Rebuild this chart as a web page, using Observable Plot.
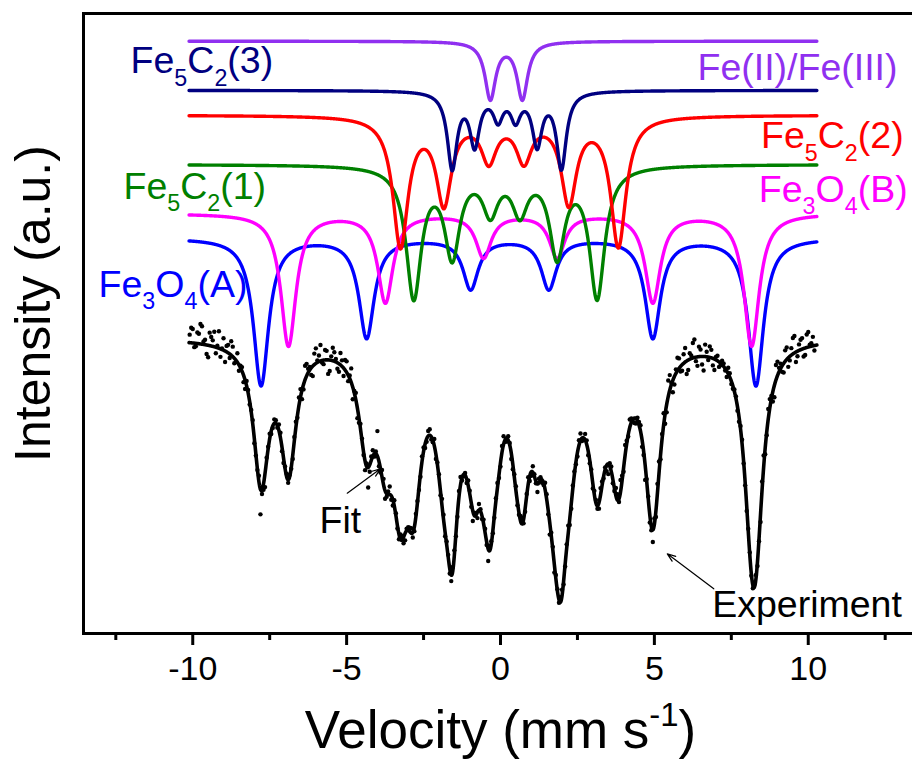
<!DOCTYPE html>
<html><head><meta charset="utf-8">
<script src="https://cdn.jsdelivr.net/npm/d3@7"></script>
<script src="https://cdn.jsdelivr.net/npm/@observablehq/plot@0.6"></script>
<style>
html,body{margin:0;padding:0;background:#fff;overflow:hidden;width:912px;height:769px}
svg{display:block;max-width:none !important}
</style></head><body><div id="chart"></div>
<script>
// ---- sub-spectra (Lorentzian lines) ----
const componentNames = ["Fe3O4(A)", "Fe3O4(B)", "Fe5C2(1)", "Fe5C2(2)", "Fe5C2(3)", "Fe(II)/Fe(III)"];
const componentBaselines = [395.4, 420, 469, 518.3, 543.1, 592.3];
const componentHalfWidths = [0.30, 0.30, 0.30, 0.30, 0.19, 0.21];
const posA = [-7.78, -4.35, -0.97, 1.57, 4.95, 8.30];
const posB = [-6.89, -3.74, -0.55, 1.84, 4.95, 8.16];
const posC1 = [-2.82, -1.57, -0.33, 0.63, 1.84, 3.14];
const posC2 = [-3.25, -1.84, -0.38, 0.76, 2.22, 3.83];
const posC3 = [-1.57, -0.84, -0.08, 0.49, 1.19, 1.98];
const posD = [-0.33, 0.71];
const depthA = [147, 99, 50, 50, 99, 147];
const depthB = [132, 88, 43, 43, 88, 132];
const depthC1 = [130, 87, 43, 43, 87, 130];
const depthC2 = [129, 85, 42, 42, 85, 129];
const depthC3 = [76, 52, 26, 26, 52, 76];
const depthD = [57, 57];
const componentPositions = [posA, posB, posC1, posC2, posC3, posD];
const componentDepths = [depthA, depthB, depthC1, depthC2, depthC3, depthD];
const velocityRange = [-10.12, 10.28];

// ---- fit and experiment ----
const fitBaseline = 296;
const fitScale = 0.93;
const expStartA = -10.1, expStartB = -10.05, expStep = 0.1;
const expResidualsA = [
  8, 14, -3, 10, 18, 5, -12, 9, 15, 2, -8, 12, 6, -4, 10, -2,
  -6, 4, -9, 3, 2, -5, -1, -25, -6, 3,
  5, -2, 3, 6, -4, 2, -3, -1, 4, -2,
  8, -5, 12, 3, -10, 15, 6, -2, 10, -14, 4, 9, -6, 12,
  -8, 11, 3, -12, 7, -5, 2, -9, -20, 4, -3,
  25, -4, 6, -3, 8, -6, 2, -5, 4, -7, 3, 5, -4, 2, -3,
  4, -3, 6, -2, -5, 3, 7, -4, 2, -6, 5, -3, 8, -2, -4, 3, -10, 2, 6, -3, 4, -12, 3, -2,
  5, -4, 8, -3, 2, -5, 4, -2, 6, -3, 7, -4, 2, -8, 3, -2, 5, -12, 3, 4, -3, 6, -2, 8, -5, 3, -4, 7, -2, 4, -3,
  -5, 3, -6, 4, 2, -10, 5, -3, 6, 12, -4, 3, 8, -2, -5, 3, -7, -15, 2, -4,
  6, 9, -4, 12, -8, 15, -12, 4, 10, -6, 14, -10, 3, 18, -9, 7, -14, 5, 11, -7,
  3, -5, 4, -2, 6, -3, 2, -4, 3, -2, -5, 2, -3, 4, -2,
  8, -6, 10, 3, -12, 14, 5, -9, 12, -4, 16, -10, 6, 11, -7, 15, 3, -5
];
const expResidualsB = [
  15, -4, 11, 20, 3, -9, 13, 6, -6, 17, 1, -11, 8, 14, -5, 9,
  2, -7, 5, -3, 4, -2, 6, -4, -14, 2,
  -3, 4, -2, 5, -5, 3, 2, -4, 6, 8,
  -9, 14, 4, -7, 11, 2, 16, -4, 9, -11, 13, 3, -8, 6,
  10, -6, 14, 2, -10, 5, -3, 3, -7, 6, 2,
  -5, 7, -8, 3, -4, 6, -3, 5, -6, 2, 4, -5, 3, -2, 5,
  -4, 5, -3, 7, 2, -4, 5, 3, -5, 4, -2, 6, -3, 2, 5, -4, 3, -6, 2, 4, -3, 5, -2, 3,
  -3, 6, -2, 4, -6, 3, -3, 5, -4, 2, -5, 6, -2, 4, -3, 7, -4, 3, -8, 2, 5, -3, 4, -6, 3, -2, 5, -3, 6, -4, 2,
  4, -3, 7, -2, -6, 3, -4, 8, -3, 5, 10, -2, 4, -5, 3, 6, -4, 2, -8, -12,
  -6, 12, 5, -10, 16, 2, -8, 13, -5, 9, -13, 6, 15, -4, 10, -8, 12, -3, 8, -11,
  5, -2, 3, -6, 4, -3, 2, -5, 4, -3, 2, -2, 3, -4,
  -8, 12, -3, 9, -10, 15, 4, -6, 11, -9, 7, 17, -5, 10, -8, 13, 2, 9
];

// ---- axis ticks ----
const majorTicks = [-10, -5, 0, 5, 10];
const minorTicks = [-12.5, -7.5, -2.5, 2.5, 7.5, 12.5];

// ---- styling / annotations ----
const componentColors = ["#0000ff", "#ff00ff", "#008000", "#ff0000", "#000080", "#9030f0"];
const leftLabels = [
  {text: "Fe_{5}C_{2}(3)", x: -12.02, y: 572.3, color: "#000080"},
  {text: "Fe_{5}C_{2}(1)", x: -12.25, y: 447, color: "#008000"},
  {text: "Fe_{3}O_{4}(A)", x: -13.06, y: 349, color: "#0000ff"},
  {text: "Fit", x: -5.88, y: 112.3, color: "#000000"},
  {text: "Experiment", x: 6.88, y: 29, color: "#000000"}
];
const rightLabels = [
  {text: "Fe(II)/Fe(III)", x: 12.90, y: 565.7, color: "#9030f0"},
  {text: "Fe_{5}C_{2}(2)", x: 13.10, y: 497.3, color: "#ff0000"},
  {text: "Fe_{3}O_{4}(B)", x: 13.23, y: 444, color: "#ff00ff"}
];
const arrows = [
  {x1: -4.98, y1: 140.3, x2: -3.90, y2: 164.7},
  {x1: 6.93, y1: 44.7, x2: 5.42, y2: 79.7}
];
const yTitle = [{text: "Intensity (a.u.)", x: -15.16, y: 330}];

// ---- model evaluation ----
function absorption(k, v) {
  const p = componentPositions[k], d = componentDepths[k], w = componentHalfWidths[k];
  let s = 0;
  for (let j = 0; j < p.length; j++) { const u = (v - p[j]) / w; s += d[j] / (1 + u * u); }
  return s;
}
function totalAbsorption(v) { let s = 0; for (let k = 0; k < componentNames.length; k++) s += absorption(k, v); return s; }
const fitAt = v => fitBaseline - fitScale * totalAbsorption(v);
const vs = d3.range(velocityRange[0], velocityRange[1] + 1e-9, 0.01);
const curves = componentNames.map((name, k) => vs.map(v => ({v, y: componentBaselines[k] - absorption(k, v)})));
const fitData = vs.map(v => ({v, y: fitAt(v)}));
const expData = [
  ...expResidualsA.map((r, i) => { const v = expStartA + i * expStep; return {v, y: fitAt(v) + r}; }),
  ...expResidualsB.map((r, i) => { const v = expStartB + i * expStep; return {v, y: fitAt(v) + r}; })
];

const marks = [
  Plot.dot(expData, {x: "v", y: "y", r: 2.2, fill: "black", stroke: null}),
  Plot.line(fitData, {x: "v", y: "y", stroke: "black", strokeWidth: 3.6}),
  ...curves.map((c, k) => Plot.line(c, {x: "v", y: "y", stroke: componentColors[k], strokeWidth: 3.4})),
  Plot.text(leftLabels, {x: "x", y: "y", text: "text", fill: "color", textAnchor: "start", fontSize: 37.5, lineAnchor: "middle"}),
  Plot.text(rightLabels, {x: "x", y: "y", text: "text", fill: "color", textAnchor: "end", fontSize: 37.5, lineAnchor: "middle"}),
  Plot.arrow(arrows, {x1: "x1", y1: "y1", x2: "x2", y2: "y2", stroke: "black", strokeWidth: 1.2, headLength: 11, headAngle: 40}),
  Plot.axisX({ticks: majorTicks, tickSize: 12, tickPadding: 10, strokeWidth: 3, fontSize: 34, tickFormat: d => String(d), label: null}),
  Plot.axisX({ticks: minorTicks, tickSize: 7, strokeWidth: 3, tickFormat: () => "", label: null}),
  Plot.text(["Velocity (mm s^{-1})"], {frameAnchor: "bottom", dy: 98, fontSize: 53, lineAnchor: "middle", fill: "black"}),
  Plot.text(yTitle, {x: "x", y: "y", text: "text", rotate: -90, fontSize: 50, lineAnchor: "middle", fill: "black"}),
  Plot.frame({stroke: "black", strokeWidth: 3})
];

const chart = Plot.plot({
  width: 920, height: 769,
  marginLeft: 83, marginRight: 3, marginTop: 13, marginBottom: 136,
  x: {domain: [-13.55, 13.55]},
  y: {domain: [0, 620], axis: null},
  style: {fontFamily: "'Liberation Sans', Arial, sans-serif", background: "white", color: "black", maxWidth: "none"},
  marks
});
chart.style.maxWidth = "none";
document.getElementById("chart").appendChild(chart);

// rich text: _{sub} and ^{sup}
d3.select(chart).selectAll("text").each(function() {
  const el = this;
  const s = el.textContent;
  if (!/[_^]\{/.test(s)) return;
  const fs = parseFloat(getComputedStyle(el).fontSize) || 35;
  const tsp = el.querySelector("tspan");
  const attrs = [];
  if (tsp) for (const a of tsp.attributes) attrs.push([a.name, a.value]);
  while (el.firstChild) el.removeChild(el.firstChild);
  const outer = document.createElementNS("http://www.w3.org/2000/svg", "tspan");
  for (const [n, v] of attrs) outer.setAttribute(n, v);
  el.appendChild(outer);
  const parts = s.split(/([_^]\{[^}]*\})/).filter(p => p.length);
  let pending = 0;
  for (const p of parts) {
    const t = document.createElementNS("http://www.w3.org/2000/svg", "tspan");
    if (p[0] === "_" || p[0] === "^") {
      const sh = p[0] === "_" ? 0.33 * fs : -0.42 * fs;
      t.textContent = p.slice(2, -1);
      t.setAttribute("font-size", (0.62 * fs) + "px");
      t.setAttribute("dy", (sh + pending) + "px");
      pending = -sh;
    } else {
      t.textContent = p;
      if (pending) t.setAttribute("dy", pending + "px");
      pending = 0;
    }
    outer.appendChild(t);
  }
});
</script></body></html>
